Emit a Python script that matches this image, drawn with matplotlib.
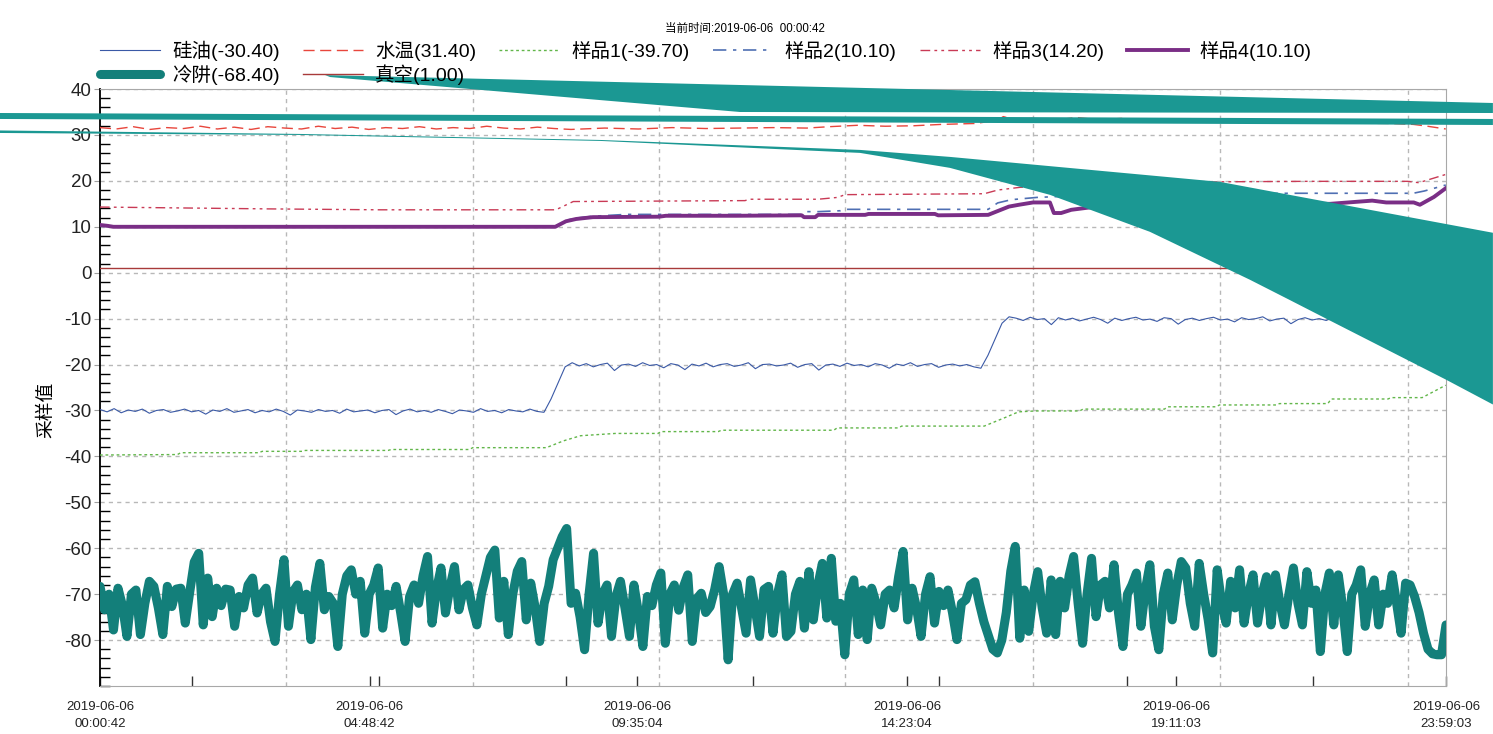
import numpy as np
import matplotlib.pyplot as plt
from matplotlib.ticker import FixedLocator, MultipleLocator

plt.rcParams['font.family'] = ['Liberation Sans', 'Noto Sans CJK SC', 'DejaVu Sans']
plt.rcParams['axes.unicode_minus'] = False

# ---------------- 数据（时间单位：小时） ----------------
T_START = 0.0117   # 00:00:42
T_END = 23.984     # 23:59:03

xtick_hours = [T_START, 4.8117, 9.5844, 14.3844, 19.1842, T_END]
xtick_labels = ['2019-06-06\n00:00:42', '2019-06-06\n04:48:42', '2019-06-06\n09:35:04',
                '2019-06-06\n14:23:04', '2019-06-06\n19:11:03', '2019-06-06\n23:59:03']

# 硅油：等间隔采样
oil_v = [-29.8, -30.3, -29.6, -30.5, -29.9, -30.2, -29.7, -30.6, -30.0, -29.8, -30.4, -30.1, -29.7, -30.3,
         -30.0, -30.8, -29.9, -30.2, -29.6, -30.4, -30.1, -29.8, -30.5, -30.0, -30.3, -29.7, -30.2, -31.0,
         -29.9, -30.1, -30.4, -29.8, -30.2, -30.0, -30.6, -29.7, -30.3, -30.1, -29.9, -30.5, -30.0, -29.8,
         -30.9, -30.1, -29.7, -30.3, -30.0, -30.4, -29.8, -30.2, -30.7, -29.9, -30.1, -30.4, -29.6, -30.2,
         -30.0, -30.5, -29.8, -30.1, -30.3, -29.7, -30.2, -30.4,
         -27.5, -24.0, -20.5,
         -19.6, -20.3, -19.8, -20.5, -20.0, -19.7, -21.3, -20.1, -19.9, -20.4, -19.6, -20.2, -20.0, -20.7,
         -19.8, -20.1, -21.1, -19.9, -20.3, -19.7, -20.5, -20.0, -19.8, -20.4, -20.1, -19.6, -20.9, -20.0,
         -19.9, -20.3, -20.1, -19.7, -20.6, -20.0, -19.8, -21.2, -20.1, -19.9, -20.4, -19.7, -20.2, -20.0,
         -20.5, -19.8, -20.1, -20.8, -19.9, -20.2, -19.6, -20.4, -20.0, -19.8, -20.6, -20.1, -19.9, -20.3,
         -20.0, -20.5, -20.8,
         -18.0, -14.5, -11.0,
         -9.6, -9.9, -10.4, -9.7, -10.2, -10.0, -11.3, -9.8, -10.3, -9.9, -10.5, -10.1, -9.7, -10.2, -11.0,
         -9.9, -10.4, -10.0, -9.7, -10.3, -10.1, -10.6, -9.8, -10.0, -11.2, -10.2, -9.9, -10.4, -10.0, -9.7,
         -10.3, -10.1, -10.7, -9.8, -10.2, -10.0, -9.6, -10.5, -10.1, -9.9, -11.1, -10.2, -9.8, -10.3, -10.0,
         -10.4, -9.7, -10.1, -10.0, -10.3, -9.9, -10.2, -10.0, -10.4, -9.8, -10.1, -10.3, -10.0, -9.9, -10.2,
         -10.0, -10.1, -10.0]

water_pts = [(0.01, 31.6), (0.3, 31.3), (0.6, 31.8), (0.9, 31.2), (1.2, 31.6), (1.5, 31.4), (1.8, 31.9),
             (2.1, 31.3), (2.4, 31.7), (2.7, 31.2), (3.0, 31.8), (3.3, 31.5), (3.6, 31.3), (3.9, 31.9),
             (4.2, 31.4), (4.5, 31.7), (4.8, 31.2), (5.1, 31.6), (5.4, 31.4), (5.7, 31.8), (6.0, 31.3),
             (6.3, 31.6), (6.6, 31.4), (6.9, 31.9), (7.2, 31.5), (7.5, 31.3), (7.8, 31.7), (8.1, 31.4),
             (8.4, 31.2), (9.0, 31.5), (9.6, 31.3), (10.2, 31.6), (10.8, 31.4), (11.4, 31.5), (12.0, 31.6),
             (12.6, 31.5), (13.0, 31.8), (13.5, 32.1), (14.0, 31.9), (14.5, 32.0), (15.0, 32.3), (15.6, 32.5),
             (16.0, 33.2), (16.1, 34.0), (16.3, 33.3), (16.6, 33.6), (17.0, 33.2), (17.4, 33.8), (17.8, 33.3),
             (18.2, 33.6), (18.6, 33.1), (19.0, 33.4), (19.5, 33.2), (20.0, 33.0), (21.0, 32.8), (22.0, 32.6),
             (23.0, 32.5), (23.4, 32.3), (23.6, 32.0), (23.98, 31.3)]

s1_pts = [(0.01, -39.7), (1.39, -39.6), (1.45, -39.2), (2.84, -39.2), (2.90, -38.9), (3.61, -38.9),
          (3.67, -38.7), (5.14, -38.7), (5.20, -38.5), (6.59, -38.5), (6.65, -38.1), (7.96, -38.1),
          (8.27, -36.6), (8.57, -35.5), (9.19, -35.0), (9.95, -35.0), (10.0, -34.6), (11.02, -34.6),
          (11.08, -34.3), (13.08, -34.3), (13.14, -33.8), (14.23, -33.8), (14.29, -33.4), (15.76, -33.4),
          (16.14, -31.5), (16.37, -30.3), (16.68, -30.1), (17.46, -30.1), (17.52, -29.7), (18.97, -29.7),
          (19.03, -29.2), (19.89, -29.2), (19.95, -28.8), (20.96, -28.8), (21.02, -28.5), (21.88, -28.5),
          (21.94, -27.5), (22.95, -27.5), (23.01, -27.2), (23.56, -27.2), (23.98, -24.5)]

s2_pts = [(0.01, 10.1), (8.12, 10.1), (8.31, 11.4), (8.49, 11.9), (8.79, 12.3), (9.38, 12.7), (12.51, 12.7),
          (12.60, 13.3), (12.80, 13.3), (13.20, 13.5), (13.28, 13.8), (15.83, 13.8), (16.00, 15.2),
          (16.24, 15.9), (16.70, 16.4), (17.5, 16.8), (18.5, 17.1), (21.2, 17.3), (23.40, 17.3),
          (23.60, 17.8), (23.98, 19.1)]

s3_pts = [(0.01, 14.3), (1.5, 14.1), (3.0, 13.9), (5.0, 13.7), (8.13, 13.7), (8.44, 15.5), (11.50, 15.7),
          (11.57, 16.0), (12.80, 16.0), (13.15, 16.4), (13.28, 17.0), (15.76, 17.2), (16.00, 18.0),
          (16.4, 18.6), (17.5, 19.0), (19.0, 19.5), (20.0, 19.8), (21.5, 19.9), (23.3, 19.9),
          (23.5, 19.6), (23.98, 21.4)]

s4_pts = [(0.01, 10.4), (0.15, 10.2), (0.25, 10.0), (8.12, 10.0), (8.31, 11.2), (8.49, 11.7), (8.79, 12.1),
          (9.97, 12.2), (10.09, 12.4), (11.34, 12.4), (12.51, 12.5), (12.55, 12.1), (12.75, 12.1),
          (12.80, 12.6), (13.64, 12.6), (13.70, 12.8), (14.88, 12.8), (14.94, 12.5), (15.83, 12.6),
          (16.20, 14.4), (16.38, 14.8), (16.63, 15.3), (16.93, 15.3), (17.00, 13.0), (17.13, 13.0),
          (17.31, 13.7), (17.82, 14.5), (19.60, 15.0), (21.92, 15.0), (22.67, 15.7), (22.92, 15.3),
          (23.41, 15.3), (23.52, 14.8), (23.77, 16.5), (23.98, 18.4)]

# 冷阱：等间隔采样（约 4.8 分钟一个点）
cold_v = [-68.3, -73.4, -70.0, -77.8, -68.7, -72.5, -79.2, -70.0, -69.1, -78.8,
          -72.0, -67.2, -68.3, -73.0, -78.8, -68.3, -72.7, -68.9, -68.7, -76.3,
          -69.5, -63.0, -61.1, -76.7, -66.5, -74.9, -68.7, -72.5, -68.9, -69.1,
          -77.0, -70.5, -73.0, -68.0, -66.5, -74.1, -70.0, -68.7, -76.0, -80.3,
          -70.0, -62.5, -77.0, -69.5, -68.0, -73.4, -70.0, -79.9, -68.5, -63.3,
          -73.4, -70.5, -72.0, -81.4, -70.0, -66.0, -64.7, -70.0, -67.2, -78.5,
          -70.0, -68.0, -64.3, -77.4, -70.0, -72.5, -68.3, -74.0, -80.3, -70.5,
          -68.0, -72.0, -66.0, -61.8, -76.3, -69.0, -64.3, -74.1, -68.5, -64.0,
          -73.4, -69.0, -68.0, -73.0, -76.7, -70.0, -66.0, -62.0, -60.4, -75.2,
          -67.2, -78.8, -70.0, -65.0, -62.9, -75.6, -67.6, -73.0, -80.3, -72.0,
          -68.3, -62.5, -60.0, -57.5, -55.7, -72.0, -69.8, -75.0, -82.1, -70.0,
          -61.1, -76.3, -70.0, -68.0, -79.2, -70.5, -67.2, -73.0, -79.2, -68.0,
          -74.0, -81.4, -70.5, -72.5, -68.0, -65.4, -80.7, -70.0, -68.0, -73.5,
          -68.5, -65.8, -80.3, -71.0, -69.8, -74.0, -72.7, -69.0, -64.0, -70.0,
          -84.3, -70.0, -67.6, -73.0, -78.5, -66.9, -73.0, -79.2, -69.0, -68.3,
          -78.5, -70.0, -65.8, -79.2, -78.1, -70.0, -67.2, -77.4, -65.1, -75.6,
          -68.0, -63.3, -75.2, -62.2, -75.9, -72.0, -83.2, -70.0, -66.9, -78.8,
          -69.1, -79.9, -68.7, -72.0, -76.7, -70.0, -69.1, -73.0, -66.2, -60.7,
          -75.6, -68.7, -73.0, -79.2, -70.0, -66.2, -76.3, -69.4, -72.5, -69.1,
          -74.0, -79.9, -72.0, -71.2, -68.0, -67.3, -72.0, -76.0, -79.0, -82.0,
          -82.8, -80.0, -74.0, -65.0, -59.6, -79.6, -69.1, -78.1, -70.0, -65.1,
          -73.0, -78.5, -66.9, -78.8, -67.2, -73.0, -66.0, -61.8, -72.0, -80.7,
          -70.0, -62.2, -74.9, -68.0, -67.2, -73.0, -63.6, -74.0, -81.4, -70.0,
          -68.0, -65.4, -77.0, -69.0, -63.6, -77.0, -82.1, -70.0, -65.4, -75.6,
          -68.0, -62.9, -64.3, -72.0, -77.0, -63.3, -70.0, -75.6, -82.8, -64.7,
          -72.0, -76.3, -67.2, -73.0, -64.7, -76.3, -70.0, -65.8, -76.3, -70.0,
          -66.2, -76.7, -65.8, -72.0, -76.7, -70.0, -64.3, -72.0, -76.7, -65.1,
          -72.0, -69.1, -82.5, -70.0, -65.4, -76.7, -65.8, -73.0, -82.5, -70.0,
          -68.0, -64.7, -77.0, -70.0, -66.9, -76.7, -70.0, -72.0, -65.8, -72.0,
          -78.5, -67.6, -68.0, -70.5, -74.0, -78.5, -82.0, -83.0, -83.2, -83.2,
          -76.7]

vac_pts = [(T_START, 1.0), (T_END, 1.0)]

# 截图里冷阱粗线渲染出的残影（数据坐标）
glitch_a = [(4.02, 43.04), (24.82, 36.96), (24.82, 34.78), (11.41, 35.0), (4.11, 42.61)]
glitch_band = [(-1.77, 34.78), (24.82, 33.48), (24.82, 32.17), (-1.77, 33.48)]
glitch_b = [(-1.77, 30.98), (3.57, 30.22), (8.92, 28.91), (13.55, 26.74), (15.15, 25.22), (19.96, 19.78),
            (24.82, 8.70), (24.82, -28.70), (23.98, -23.26), (21.85, -10.0), (21.19, -5.87),
            (20.49, -1.52), (18.71, 8.91), (16.93, 16.96), (15.15, 22.83), (13.55, 26.09),
            (8.92, 28.70), (3.57, 30.0), (-1.77, 30.43)]

grid_x = [3.32, 6.65, 9.97, 13.28, 16.63, 19.96, 23.31]
minor_x = [1.65, 4.98, 8.31, 11.64, 14.95, 18.30, 21.62]

# ---------------- 绘图 ----------------
fig = plt.figure(figsize=(14.93, 7.34), dpi=100)
ax = fig.add_axes([0.067, 0.0654, 0.9015, 0.8133])

oil_t = np.linspace(T_START, T_END, len(oil_v))
h_oil, = ax.plot(oil_t, oil_v, color='#3a59a6', lw=0.8, label='硅油(-30.40)', zorder=3)

t, v = np.array(water_pts).T
h_water, = ax.plot(t, v, color='#e8463c', lw=1.0, ls=(0, (8, 4)), label='水温(31.40)', zorder=3)
t, v = np.array(s1_pts).T
h_s1, = ax.plot(t, v, color='#62b64a', lw=1.0, ls=(0, (2, 2)), label='样品1(-39.70)', zorder=3)
t, v = np.array(s2_pts).T
h_s2, = ax.plot(t, v, color='#4f6fb3', lw=1.2, ls=(0, (8, 4, 2, 4)), label='样品2(10.10)', zorder=3)
t, v = np.array(s3_pts).T
h_s3, = ax.plot(t, v, color='#c93a55', lw=1.0, ls=(0, (7, 3, 2, 3, 2, 3)), label='样品3(14.20)', zorder=3)
t, v = np.array(s4_pts).T
h_s4, = ax.plot(t, v, color='#7a2e86', lw=2.8, label='样品4(10.10)', zorder=4)
cold_t = np.linspace(T_START, T_END, len(cold_v))
h_cold, = ax.plot(cold_t, cold_v, color='#137f7a', lw=6.5, solid_capstyle='round', solid_joinstyle='round',
                  label='冷阱(-68.40)', zorder=5)
t, v = np.array(vac_pts).T
h_vac, = ax.plot(t, v, color='#a83a3a', lw=1.0, label='真空(1.00)', zorder=3)

for poly in (glitch_a, glitch_band, glitch_b):
    px, py = np.array(poly).T
    ax.fill(px, py, color='#1b9893', lw=0, clip_on=False, zorder=10)

# 坐标轴
ax.set_xlim(T_START, T_END)
ax.set_ylim(-90, 40)
ax.yaxis.set_major_locator(FixedLocator(list(range(-80, 41, 10))))
ax.yaxis.set_minor_locator(MultipleLocator(2))
ax.tick_params(axis='y', which='major', direction='out', length=4, color='#a0a0a0',
               labelsize=13.5, labelcolor='#222222', pad=2)
ax.tick_params(axis='y', which='minor', direction='in', length=7, width=1, color='black')

ax.xaxis.set_major_locator(FixedLocator(xtick_hours))
ax.set_xticklabels(xtick_labels, fontsize=9.5, color='#222222', linespacing=1.5)
ax.xaxis.set_minor_locator(FixedLocator(minor_x))
ax.tick_params(axis='x', which='both', direction='in', length=7, width=1, color='#333333', pad=11)

ax.grid(axis='y', which='major', color='#b8b8b8', ls=(0, (3, 3)), lw=1)
for gx in grid_x:
    ax.axvline(gx, color='#b8b8b8', ls=(0, (3, 3)), lw=1, zorder=1)

for side in ('top', 'right', 'bottom'):
    ax.spines[side].set_color('#a8a8a8')
ax.spines['left'].set_color('black')
ax.spines['left'].set_linewidth(1.3)

ax.set_ylabel('采样值', fontsize=13.5)
ax.yaxis.set_label_coords(-0.0335, 0.462)

fig.text(0.499, 0.961, '当前时间:2019-06-06  00:00:42', ha='center', va='center', fontsize=8.3)

handles = [h_oil, h_cold, h_water, h_vac, h_s1, h_s2, h_s3, h_s4]
fig.legend(handles, [h.get_label() for h in handles], ncol=6, loc='upper left',
           bbox_to_anchor=(0.067, 0.945), frameon=False, fontsize=14, handlelength=3.1,
           handletextpad=0.6, columnspacing=1.2, labelspacing=0.2, borderpad=0, borderaxespad=0)

fig.savefig('out.png', dpi=100)
